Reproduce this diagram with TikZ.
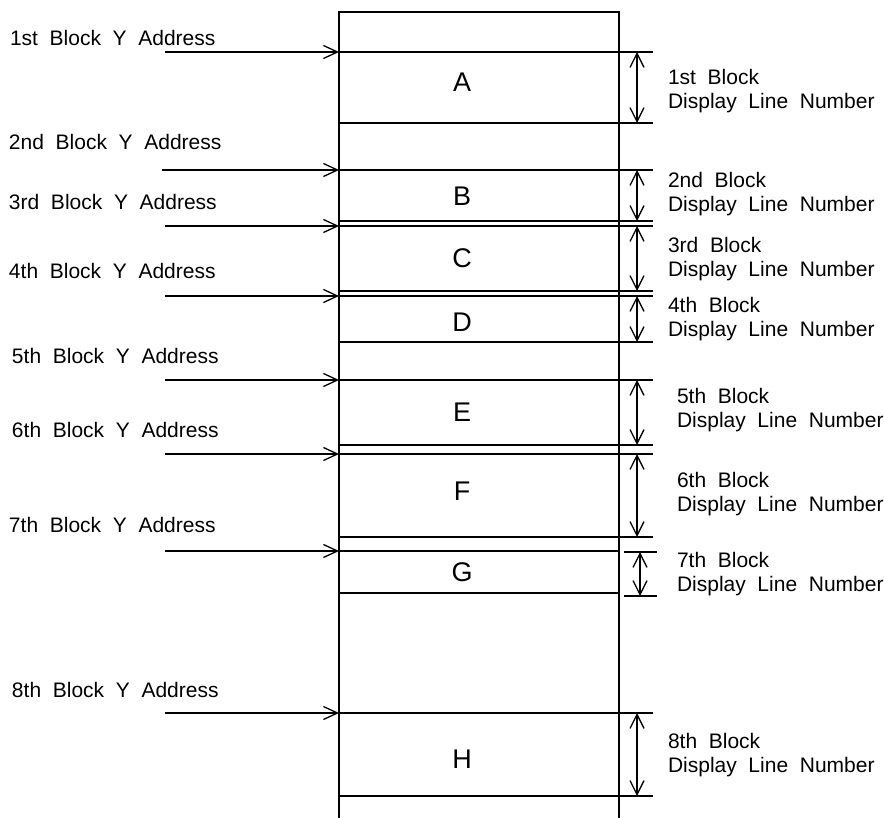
\documentclass[tikz,border=0pt]{standalone}
\usepackage{fontspec}
\setmainfont{Liberation Sans}[WordSpace=2]
\usetikzlibrary{arrows.meta}
\begin{document}
\begin{tikzpicture}[x=1pt,y=-1pt,
  every node/.style={inner sep=0pt,outer sep=0pt},
  lw/.style={line width=1.3pt},
  block/.style={draw,lw,minimum width=280pt,anchor=center},
  lbl/.style={font=\fontsize{21}{24}\selectfont,anchor=base west},
  rlbl/.style={font=\fontsize{21}{24}\selectfont,anchor=base west,align=left},
  letter/.style={font=\fontsize{27}{30}\selectfont},
  arr/.style={lw,-{Straight Barb[length=14pt,width=13pt]}},
  dim/.style={lw,{Straight Barb[length=14pt,width=14pt]}-{Straight Barb[length=14pt,width=14pt]}},
  tick/.style={lw}]
\useasboundingbox (0,0) rectangle (884,818);
% column
\coordinate (colbl) at (339,818);
\coordinate (coltl) at (339,12);
\coordinate (coltr) at (619,12);
\coordinate (colbr) at (619,818);
\draw[lw] (colbl) -- (coltl) -- (coltr) -- (colbr);
% blocks
\node[block,minimum height=71pt] (A) at (479,87.5) {};
\node[block,minimum height=51pt] (B) at (479,195.5) {};
\node[block,minimum height=65pt] (C) at (479,258.5) {};
\node[block,minimum height=46pt] (D) at (479,319) {};
\node[block,minimum height=65pt] (E) at (479,412.5) {};
\node[block,minimum height=83pt] (F) at (479,495.5) {};
\node[block,minimum height=42pt] (G) at (479,572) {};
\node[block,minimum height=83pt] (H) at (479,754.5) {};
% letters
\node[letter] (lA) at (462,82) {A};
\node[letter] (lB) at (462,196) {B};
\node[letter] (lC) at (462,258) {C};
\node[letter] (lD) at (462,322) {D};
\node[letter] (lE) at (462,412) {E};
\node[letter] (lF) at (462,491) {F};
\node[letter] (lG) at (462,572) {G};
\node[letter] (lH) at (462,759) {H};
% left labels
\node[lbl] (yA) at (10,46) {1st Block Y Address};
\node[lbl] (yB) at (9,149.5) {2nd Block Y Address};
\node[lbl] (yC) at (9,210) {3rd Block Y Address};
\node[lbl] (yD) at (9,279) {4th Block Y Address};
\node[lbl] (yE) at (12,363) {5th Block Y Address};
\node[lbl] (yF) at (12,437) {6th Block Y Address};
\node[lbl] (yG) at (9,532) {7th Block Y Address};
\node[lbl] (yH) at (12,697) {8th Block Y Address};
% left arrows
\coordinate (sA) at (165,52);
\coordinate (sB) at (162,170);
\coordinate (sC) at (165,226);
\coordinate (sD) at (165,296);
\coordinate (sE) at (165,380);
\coordinate (sF) at (165,454);
\coordinate (sG) at (165,551);
\coordinate (sH) at (165,713);
\foreach \b in {A,B,C,D,E,F,G,H}{
  \draw[arr] (s\b) -- (\b.north west);
}
% ticks and dimension arrows
\foreach \b in {A,B,C,D,E,F,H}{
  \draw[tick] (\b.north east) -- ++(34,0);
  \draw[tick] (\b.south east) -- ++(34,0);
  \draw[dim] ([xshift=18pt]\b.north east) -- ([xshift=18pt]\b.south east);
}
\coordinate (gt) at (624,552);
\coordinate (gb) at (624,596);
\draw[tick] (gt) -- ++(33,0);
\draw[tick] (gb) -- ++(33,0);
\draw[dim] ([xshift=16pt]gt) -- ([xshift=16pt]gb);
% right labels (base anchor = baseline of last line)
\node[rlbl] (nA) at (668,108.5) {1st Block\\Display Line Number};
\node[rlbl] (nB) at (668,211.5) {2nd Block\\Display Line Number};
\node[rlbl] (nC) at (668,277) {3rd Block\\Display Line Number};
\node[rlbl] (nD) at (668,337) {4th Block\\Display Line Number};
\node[rlbl] (nE) at (677,427) {5th Block\\Display Line Number};
\node[rlbl] (nF) at (677,511.5) {6th Block\\Display Line Number};
\node[rlbl] (nG) at (677,591.5) {7th Block\\Display Line Number};
\node[rlbl] (nH) at (668,772.5) {8th Block\\Display Line Number};
\end{tikzpicture}
\end{document}
